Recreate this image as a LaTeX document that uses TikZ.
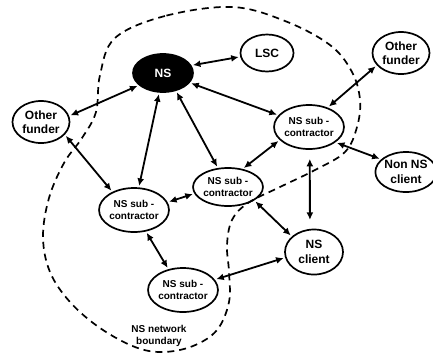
\documentclass[tikz,border=0pt]{standalone}
\usepackage{fontspec}
\setmainfont{Liberation Sans}
\usetikzlibrary{shapes.geometric,arrows.meta}

\begin{document}
\begin{tikzpicture}[x=1pt,y=-1pt,
    party/.style={ellipse,draw,line width=1.7pt,inner sep=0pt,align=center,
      font=\fontsize{12}{14.5}\selectfont\bfseries,minimum width=57pt,minimum height=42pt},
    subcon/.style={party,font=\fontsize{10}{11.5}\selectfont\bfseries,
      minimum width=58pt,minimum height=44pt},
    link/.style={{Latex[length=7.5pt,width=7pt]}-{Latex[length=7.5pt,width=7pt]},
      line width=1.8pt,shorten <=1.5pt,shorten >=1.5pt},
    boundary/.style={line width=1.7pt,dash pattern=on 7pt off 5pt}]
  \useasboundingbox (0,0) rectangle (433,354);

  % boundary of the network
  \draw[boundary] plot[smooth cycle,tension=0.6] coordinates {
    (232,7) (165,16) (115,38) (100,75) (96,112) (82,138) (64,163) (49,198)
    (43,237) (50,272) (70,302) (100,328) (135,347) (163,352) (193,346)
    (217,330) (229,302) (229,272) (227,245) (232,220) (248,203) (280,187)
    (315,170) (345,152) (357,127) (360,100) (352,72) (330,45) (285,21)};
  \node[font=\fontsize{10}{12.5}\selectfont\bfseries,align=center] (bnd)
    at (159,336) {NS network\\boundary};

  % parties
  \node[party,fill=black,text=white,minimum width=60pt,minimum height=38pt] (ns) at (163,73) {NS};
  \node[party,minimum width=53pt,minimum height=37pt] (lsc) at (267,53) {LSC};
  \node[party] (funderR) at (401,53) {Other\\funder};
  \node[party] (funderL) at (41,122) {Other\\funder};
  \node[party,minimum width=53pt,minimum height=40pt] (nonns) at (406,172) {Non NS\\client};
  \node[party,minimum width=58pt,minimum height=45pt] (client) at (314,252) {NS\\client};
  \node[subcon] (subR) at (309,127) {NS sub -\\contractor};
  \node[subcon,minimum height=38pt] (subM) at (228,187) {NS sub -\\contractor};
  \node[subcon] (subL) at (134,210) {NS sub -\\contractor};
  \node[subcon] (subB) at (183,290) {NS sub -\\contractor};

  % links
  \draw[link] (ns.15) -- (lsc.188);
  \draw[link] (ns.207) -- (funderL.12);
  \draw[link] (ns.259) -- (subL.78);
  \draw[link] (ns.306) -- (subM.118);
  \draw[link] (ns.-20) -- (subR.159);
  \draw[link] (funderL.-28) -- (subL.140);
  \draw[link] (subM.51) -- (subR.204);
  \draw[link] (subL.13) -- (subM.191);
  \draw[link] (subR.46) -- (funderR.207);
  \draw[link] (subR.-30) -- (nonns.153);
  \draw[link,shorten <=9pt,shorten >=9pt] (subR.272) -- (client.100);
  \draw[link] (subM.-27) -- (client.145);
  \draw[link] (subL.-61) -- (subB.125);
  \draw[link] (subB.18) -- (client.191);
\end{tikzpicture}
\end{document}
